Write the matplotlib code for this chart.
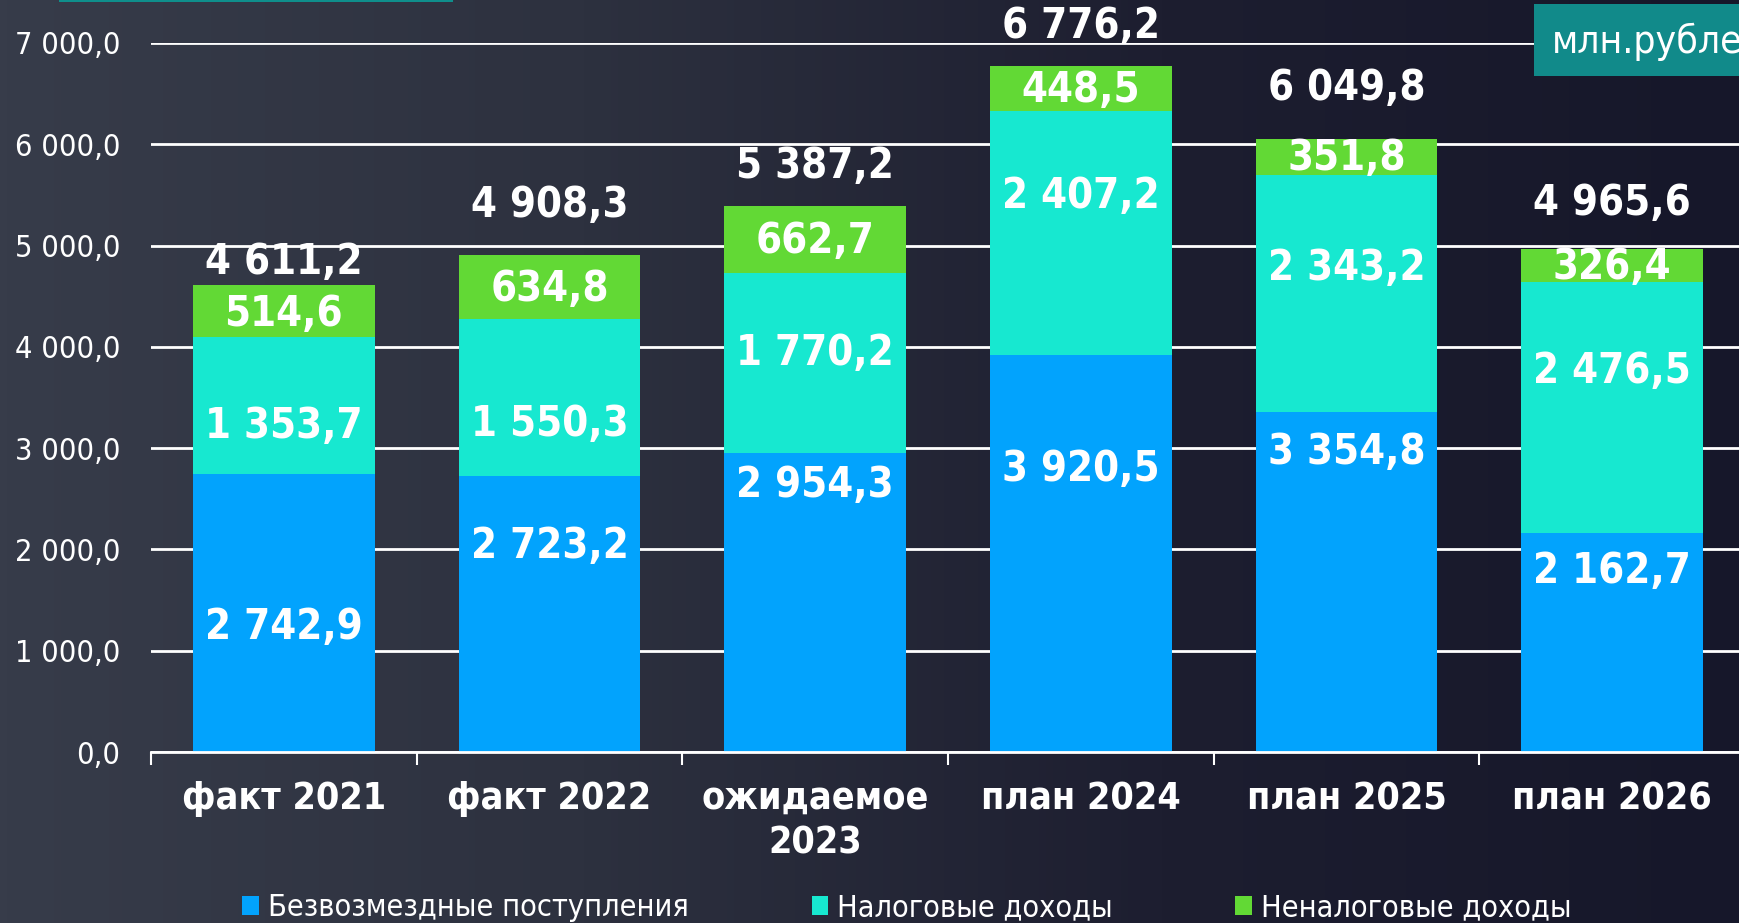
import matplotlib
matplotlib.use('Agg')
import matplotlib.pyplot as plt
import numpy as np
from matplotlib.patches import Patch, Rectangle
from matplotlib.colors import LinearSegmentedColormap

plt.rcParams['font.family'] = ['DejaVu Sans']
plt.rcParams['font.stretch'] = 'condensed'

categories = ['факт 2021', 'факт 2022', 'ожидаемое\n2023', 'план 2024', 'план 2025', 'план 2026']
bezvozm = [2742.9, 2723.2, 2954.3, 3920.5, 3354.8, 2162.7]
nalog = [1353.7, 1550.3, 1770.2, 2407.2, 2343.2, 2476.5]
nenalog = [514.6, 634.8, 662.7, 448.5, 351.8, 326.4]
totals = [4611.2, 4908.3, 5387.2, 6776.2, 6049.8, 4965.6]
series_names = ['Безвозмездные поступления', 'Налоговые доходы', 'Неналоговые доходы']
colors = ['#02a3fd', '#17e8d0', '#62d935']

# label heights (data units), hand placed like in the source slide
lbl_bezvozm = [1238, 2038, 2640, 2794, 2958, 1786]
lbl_nalog = [3221, 3243, 3944, 5488, 4776, 3758]
lbl_nenalog = [4327, 4568, 5050, 6540, 5861, 4787]
lbl_total = [4842, 5401, 5784, 7165, 6551, 5423]


def fmt(v):
    return f'{v:,.1f}'.replace(',', ' ').replace('.', ',')


W, H = 1739, 923
fig = plt.figure(figsize=(W / 100, H / 100), dpi=100)

# background gradient
bg = fig.add_axes([0, 0, 1, 1])
cmap = LinearSegmentedColormap.from_list('bg', ['#373c4a', '#2d313f', '#1d1e30', '#16172a'])
grad = np.linspace(0, 1, 512).reshape(1, -1)
bg.imshow(grad, aspect='auto', cmap=cmap, extent=[0, 1, 0, 1])
bg.set_xlim(0, 1)
bg.set_ylim(0, 1)
bg.axis('off')

ax = fig.add_axes([151 / W, 171 / H, 1594 / W, 709 / H])
ax.set_facecolor('none')

x = np.arange(len(categories))
bw = 0.685
ax.bar(x, bezvozm, bw, color=colors[0], zorder=2)
ax.bar(x, nalog, bw, bottom=bezvozm, color=colors[1], zorder=2)
bottom2 = np.array(bezvozm) + np.array(nalog)
ax.bar(x, nenalog, bw, bottom=bottom2, color=colors[2], zorder=2)

for i in range(len(categories)):
    for vals, ys in [(bezvozm, lbl_bezvozm), (nalog, lbl_nalog), (nenalog, lbl_nenalog), (totals, lbl_total)]:
        ax.text(x[i], ys[i], fmt(vals[i]), ha='center', va='center', color='white',
                fontsize=30, fontweight='bold', zorder=4, clip_on=False)

ax.set_xlim(-0.5, len(categories) - 0.5)
ax.set_ylim(0, 7000)
ax.set_yticks(np.arange(0, 7001, 1000))
ax.set_yticklabels([fmt(v) for v in np.arange(0, 7001, 1000)])
ax.tick_params(axis='y', length=0, pad=22, labelsize=22, labelcolor='white')
ax.yaxis.grid(True, color='white', lw=2)
ax.set_axisbelow(True)

ax.set_xticks(x)
ax.set_xticklabels(categories, fontsize=27, fontweight='bold', color='white', linespacing=1.3)
ax.tick_params(axis='x', which='major', length=0, pad=21)
ax.set_xticks(np.arange(-0.5, len(categories), 1), minor=True)
ax.tick_params(axis='x', which='minor', length=9, width=1.5, color='white', direction='out')

for s in ['left', 'right', 'top']:
    ax.spines[s].set_visible(False)
ax.spines['bottom'].set_color('white')
ax.spines['bottom'].set_linewidth(2)

handles = [Patch(facecolor=c, edgecolor='none') for c in colors]
fig.legend(handles, series_names, loc='center', bbox_to_anchor=(0.5217, (H - 908) / H), ncol=3,
           frameon=False, fontsize=22, labelcolor='white', handlelength=0.55, handleheight=0.55,
           handletextpad=0.3, columnspacing=4.0, borderpad=0)

# unit box top right and strip top left
fig.patches.append(Rectangle((1534 / W, (H - 76) / H), (W - 1534) / W, 72 / H,
                             transform=fig.transFigure, facecolor='#118a8a', edgecolor='none', zorder=5))
fig.text(1552 / W, (H - 42) / H, 'млн.рублей', color='white', fontsize=28, va='center', ha='left', zorder=6)
fig.patches.append(Rectangle((59 / W, (H - 2) / H), 394 / W, 2 / H,
                             transform=fig.transFigure, facecolor='#0f8f8c', edgecolor='none', zorder=5))

fig.savefig('out.png', dpi=100)
